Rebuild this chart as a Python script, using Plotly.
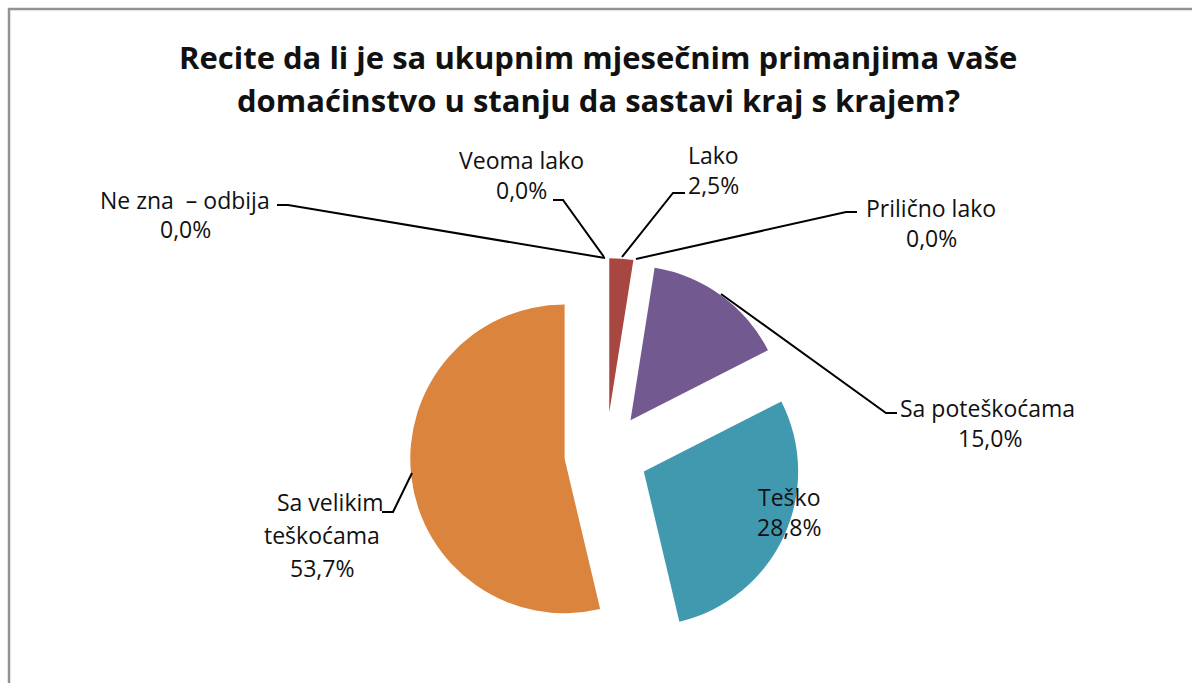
import plotly.graph_objects as go

W, H = 1192, 683

categories = ["Veoma lako", "Lako", "Prilično lako", "Sa poteškoćama",
              "Teško", "Sa velikim teškoćama", "Ne zna  – odbija"]
values = [0.0, 2.5, 0.0, 15.0, 28.8, 53.7, 0.0]
colors = ["#4F81BD", "#A84642", "#9BBB59", "#725A90", "#4199B0", "#DB843D", "#8EB4E3"]

title_lines = ["Recite da li je sa ukupnim mjesečnim primanjima vaše",
               "domaćinstvo u stanju da sastavi kraj s krajem?"]


def pct(v):
    return f"{v:.1f}".replace(".", ",") + "%"


def px(x):
    return x / W


def py(y):
    return 1 - y / H


FONT = "Open Sans"
LBL = 23

fig = go.Figure()
fig.add_trace(go.Pie(
    labels=categories,
    values=values,
    sort=False,
    direction="clockwise",
    rotation=0,
    pull=[0.27] * len(values),
    marker=dict(colors=colors, line=dict(width=0)),
    textinfo="none",
    hoverinfo="label+percent",
    showlegend=False,
    domain=dict(x=[px(410), px(802)], y=[py(650), py(258)]),
))

label_pos = {
    6: [(185, 200), (185, 229)],
    0: [(521, 160), (521, 190)],
    1: [(713, 155), (713, 185)],
    2: [(931, 208), (931, 238)],
    3: [(987, 408), (990, 438)],
    4: [(789, 497), (789, 527)],
}
leader = {
    6: [(277, 205), (288, 205), (605, 258)],
    0: [(553, 200), (563, 200), (604, 257)],
    1: [(685, 193), (673, 193), (622, 257)],
    2: [(857, 212), (846, 212), (636, 259)],
    3: [(897, 413), (886, 413), (721, 294)],
    5: [(382, 512), (393, 512), (412, 473)],
}

annotations = []


def add_text(x, y, t, size, bold=False):
    annotations.append(dict(x=px(x), y=py(y), xref="paper", yref="paper",
                            text=("<b>" + t + "</b>") if bold else t,
                            showarrow=False, xanchor="center", yanchor="middle",
                            font=dict(family=FONT, size=size, color="#111111")))


for i, lines in label_pos.items():
    for (x, y), t in zip(lines, [categories[i], pct(values[i])]):
        add_text(x, y, t, LBL)
for (x, y), t in zip([(330, 502), (322, 535), (322, 568)],
                     ["Sa velikim", "teškoćama", pct(values[5])]):
    add_text(x, y, t, LBL)
for y, t in zip([57, 100], title_lines):
    add_text(598, y, t, 31, bold=True)

shapes = []
for i, pts in leader.items():
    path = "M " + " L ".join(f"{px(x)},{py(y)}" for x, y in pts)
    shapes.append(dict(type="path", path=path, xref="paper", yref="paper",
                       line=dict(color="#000000", width=2)))
shapes.append(dict(type="path", path=f"M {px(9)},0 L {px(9)},{py(9)} L 1,{py(9)}",
                   xref="paper", yref="paper", line=dict(color="#939393", width=2.5)))

fig.update_layout(
    width=W, height=H,
    margin=dict(l=0, r=0, t=0, b=0),
    paper_bgcolor="white",
    plot_bgcolor="white",
    annotations=annotations,
    shapes=shapes,
    font=dict(family=FONT),
)

fig.write_html("out.html", config={"displayModeBar": False},
               post_script="document.body.style.margin='0px';")
